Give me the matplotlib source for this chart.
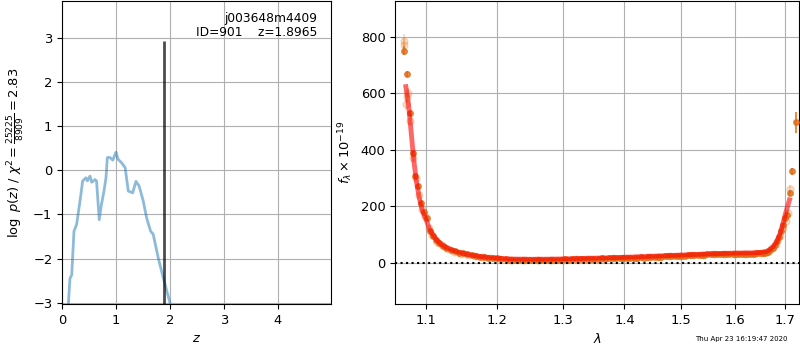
import matplotlib
matplotlib.use("Agg")
import matplotlib.pyplot as plt
from matplotlib.ticker import NullLocator, FixedLocator, FixedFormatter

# ---- left panel: p(z) ----
pz_z = [0.117, 0.148, 0.18, 0.222, 0.27, 0.333, 0.383, 0.444, 0.47, 0.519, 0.55,
        0.611, 0.64, 0.69, 0.73, 0.778, 0.815, 0.84, 0.89, 0.94, 0.98, 1.0, 1.04,
        1.105, 1.17, 1.228, 1.31, 1.37, 1.43, 1.506, 1.568, 1.642, 1.69, 1.784,
        1.877, 2.0]
pz_logp = [-3.05, -2.45, -2.37, -1.38, -1.23, -0.70, -0.24, -0.17, -0.24, -0.13, -0.27,
           -0.21, -0.24, -1.12, -0.78, -0.47, -0.17, 0.29, 0.29, 0.23, 0.35, 0.41, 0.25,
           0.17, 0.06, -0.47, -0.51, -0.25, -0.36, -0.70, -1.08, -1.38, -1.45, -1.99,
           -2.44, -3.0]
z_best = 1.8965
z_line_top = 2.93
obj_name = "j003648m4409"
obj_id = 901
chi2_num, chi2_den = 25225, 8909

# ---- right panel: spectrum ----
spec_wave = [1.0714, 1.0757, 1.0792, 1.0827, 1.0863, 1.0902, 1.0938, 1.0975, 1.1014,
             1.1057, 1.1100, 1.1136, 1.1180, 1.1230, 1.1280, 1.1340, 1.1400, 1.1460,
             1.1510, 1.1570, 1.1630, 1.1690, 1.1750, 1.1810, 1.1870, 1.1940, 1.2000,
             1.2060, 1.2120, 1.2180, 1.2240, 1.2300, 1.2360, 1.2420, 1.2480, 1.2540,
             1.2600, 1.2660, 1.2720, 1.2780, 1.2840, 1.2900, 1.2960, 1.3020, 1.3080,
             1.3140, 1.3200, 1.3260, 1.3320, 1.3380, 1.3440, 1.3500, 1.3560, 1.3620,
             1.3680, 1.3740, 1.3800, 1.3860, 1.3920, 1.3980, 1.4040, 1.4100, 1.4160,
             1.4220, 1.4280, 1.4340, 1.4400, 1.4460, 1.4520, 1.4580, 1.4640, 1.4700,
             1.4760, 1.4820, 1.4880, 1.4940, 1.5000, 1.5060, 1.5120, 1.5180, 1.5240,
             1.5300, 1.5360, 1.5420, 1.5480, 1.5540, 1.5600, 1.5660, 1.5720, 1.5780,
             1.5840, 1.5900, 1.5960, 1.6020, 1.6080, 1.6140, 1.6200, 1.6260, 1.6320,
             1.6380, 1.6440, 1.6500, 1.6560, 1.6610, 1.6660, 1.6710, 1.6760, 1.6810,
             1.6850, 1.6890, 1.6930, 1.6970, 1.7010, 1.7047, 1.7116, 1.7158, 1.7227]
spec_flux = [750, 668, 529, 388, 307, 272, 211, 180, 158,
             112, 95, 80, 70, 61, 53, 47, 42, 37,
             34, 30, 27, 24, 22, 20, 18, 17, 16,
             14, 13, 12, 11, 12, 11, 10, 11, 10,
             11, 10, 11, 12, 11, 12, 12, 13, 12,
             13, 14, 13, 14, 15, 14, 15, 15, 16,
             15, 16, 17, 16, 17, 18, 17, 18, 18,
             19, 20, 19, 20, 21, 21, 22, 22, 23,
             23, 24, 24, 25, 26, 26, 27, 27, 28,
             28, 29, 29, 30, 30, 31, 30, 31, 32,
             31, 32, 32, 33, 32, 33, 33, 32, 33,
             33, 34, 34, 35, 37, 40, 46, 54, 64,
             76, 92, 112, 135, 160, 170, 248, 324, 497]
spec_err = [15, 10, 8, 7, 6, 6, 5, 5, 5,
            4, 4, 3, 3, 3, 3, 3, 3, 3,
            3, 3, 3, 3, 3, 3, 3, 3, 3,
            3, 3, 3, 3, 3, 3, 3, 3, 3,
            3, 3, 3, 3, 3, 3, 3, 3, 3,
            3, 3, 3, 3, 3, 3, 3, 3, 3,
            3, 3, 3, 3, 3, 3, 3, 3, 3,
            3, 3, 3, 3, 3, 3, 3, 3, 3,
            3, 3, 3, 3, 3, 3, 3, 3, 3,
            3, 3, 3, 3, 3, 3, 3, 3, 3,
            3, 3, 3, 3, 3, 3, 3, 3, 3,
            3, 3, 3, 3, 3, 3, 3, 3, 3,
            4, 4, 5, 5, 6, 8, 10, 12, 38]

faint_wave = [1.0712, 1.0722, 1.0745, 1.0752, 1.0770, 1.0800, 1.0835, 1.0870, 1.0910,
              1.0950, 1.0990, 1.1040, 1.1090, 1.1150, 1.1220, 1.1300, 1.1390, 1.1480,
              1.1580, 1.1680, 1.1790, 1.1900, 1.2030, 1.2200, 1.2400, 1.2600, 1.2800,
              1.3000, 1.3200, 1.3400, 1.3600, 1.3800, 1.4000, 1.4200, 1.4400, 1.4600,
              1.4800, 1.5000, 1.5200, 1.5400, 1.5600, 1.5800, 1.6000, 1.6200, 1.6400,
              1.6550, 1.6650, 1.6750, 1.6830, 1.6900, 1.6960, 1.7020, 1.7070, 1.7110]
faint_flux = [770, 785, 560, 585, 600, 500, 370, 300, 240,
              190, 165, 125, 100, 75, 62, 50, 40, 33,
              28, 25, 20, 18, 14, 12, 10, 10, 11,
              12, 13, 14, 15, 16, 17, 19, 20, 22,
              24, 26, 28, 29, 31, 32, 33, 33, 34,
              35, 40, 52, 68, 95, 125, 150, 175, 262]
faint_err = [25, 25, 20, 20, 18, 14, 10, 8, 7,
             6, 6, 5, 5, 4, 4, 4, 4, 4,
             4, 4, 4, 4, 4, 4, 4, 4, 4,
             4, 4, 4, 4, 4, 4, 4, 4, 4,
             4, 4, 4, 4, 4, 4, 4, 4, 4,
             4, 4, 5, 5, 6, 7, 8, 12, 15]

model_wave = [1.0740, 1.0775, 1.0810, 1.0845, 1.0880, 1.0920, 1.0960, 1.1000, 1.1050,
              1.1100, 1.1160, 1.1220, 1.1300, 1.1400, 1.1500, 1.1600, 1.1750, 1.1900,
              1.2000, 1.2200, 1.2500, 1.2800, 1.3000, 1.3500, 1.4000, 1.4500, 1.5000,
              1.5500, 1.6000, 1.6400, 1.6550, 1.6650, 1.6750, 1.6830, 1.6900, 1.6960,
              1.7020, 1.7101]
model_flux = [623, 560, 460, 360, 285, 225, 182, 158, 122,
              98, 78, 64, 52, 42, 35, 29, 23, 19,
              17, 14, 13, 13.5, 14.5, 17, 20, 24, 28,
              32, 35, 36, 38, 42, 55, 72, 100, 135,
              175, 223]

lam_ticks = [1.1, 1.2, 1.3, 1.4, 1.5, 1.6, 1.7]
lam_ticklabels = ["1.1", "1.2", "1.3", "1.4", "1.5", "1.6", "1.7"]
timestamp = "Thu Apr 23 16:19:47 2020"

plt.rcParams['font.size'] = 9.4
fig = plt.figure(figsize=(8, 3.5), dpi=100)

ax1 = fig.add_axes([0.0775, 0.1314, 0.336, 0.866])
ax1.plot(pz_z, pz_logp, color='C0', alpha=0.5, lw=2)
ax1.vlines(z_best, -3.03, z_line_top, color='k', alpha=0.7, lw=2)
ax1.set_xlim(0, 4.98)
ax1.set_ylim(-3.03, 3.84)
ax1.set_xticks([0, 1, 2, 3, 4])
ax1.set_yticks([-3, -2, -1, 0, 1, 2, 3])
ax1.grid(True)
ax1.set_xlabel('$z$')
ax1.set_ylabel(r'$\log\ p(z)$ / $\chi^2=\frac{%d}{%d}=%.2f$'
               % (chi2_num, chi2_den, chi2_num / chi2_den))
ax1.text(0.95, 0.965, '%s\nID=%d    z=%.4f' % (obj_name, obj_id, z_best),
         transform=ax1.transAxes, ha='right', va='top', fontsize=8.8,
         linespacing=1.15)

ax2 = fig.add_axes([0.494, 0.1314, 0.505, 0.866])
ax2.errorbar(faint_wave, faint_flux, yerr=faint_err, fmt='o', color='#e0701a',
             alpha=0.22, ms=5, lw=1.5, zorder=2)
ax2.errorbar(spec_wave, spec_flux, yerr=spec_err, fmt='o', color='#dd6a12',
             alpha=0.75, ms=4, lw=1.5, zorder=3)
ax2.plot(model_wave, model_flux, color='red', alpha=0.6, lw=3.5, zorder=4)
ax2.axhline(0, color='k', ls=':', lw=1.5, zorder=5)
ax2.set_xscale('log')
ax2.set_xlim(1.0602, 1.7304)
ax2.set_ylim(-145, 926)
ax2.xaxis.set_major_locator(FixedLocator(lam_ticks))
ax2.xaxis.set_major_formatter(FixedFormatter(lam_ticklabels))
ax2.xaxis.set_minor_locator(NullLocator())
ax2.set_yticks([0, 200, 400, 600, 800])
ax2.grid(True)
ax2.set_xlabel(r'$\lambda$')
ax2.set_ylabel(r'$f_\lambda \times 10^{-19}$')

fig.text(0.984, 0.031, timestamp, ha='right', va='center', fontsize=5)

fig.savefig('out.png', dpi=100)
